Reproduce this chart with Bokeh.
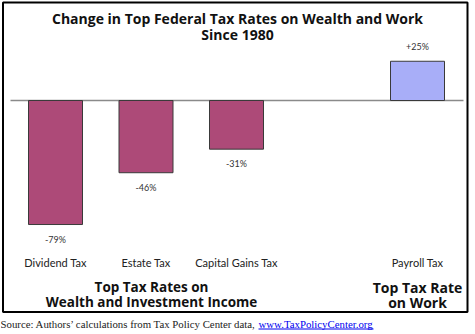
from bokeh.plotting import figure
from bokeh.models import Range1d, Label, ColumnDataSource
from bokeh.embed import file_html
from bokeh.resources import INLINE

# ---- data ----
categories = ["Dividend Tax", "Estate Tax", "Capital Gains Tax", "Payroll Tax"]
slots = [0, 1, 2, 4]
values = [-79, -46, -31, 25]
value_labels = ["-79%", "-46%", "-31%", "+25%"]
bar_colors = ["#AD4A78", "#AD4A78", "#AD4A78", "#A8AEF8"]

title_lines = ["Change in Top Federal Tax Rates on Wealth and Work", "Since 1980"]
group_left = ["Top Tax Rates on", "Wealth and Investment Income"]
group_right = ["Top Tax Rate", "on Work"]
source_text = "Source: Authors\u2019 calculations from Tax Policy Center data,"
link_text = "www.TaxPolicyCenter.org"

# ---- pixel <-> data mapping helpers (layout only) ----
W, H = 475, 334
X0, DX = 55.0, 90.5     # pixel of slot 0, pixels per slot
Y0, DY = 100.0, 1.57    # pixel of zero line, pixels per percent
def px_x(px):
    return (px - X0) / DX
def px_y(py):
    return (Y0 - py) / DY

p = figure(width=W, height=H, output_backend="svg", toolbar_location=None,
           x_range=Range1d(px_x(0), px_x(W)), y_range=Range1d(px_y(H), px_y(0)),
           x_axis_type=None, y_axis_type=None, min_border=0,
           background_fill_color="white", border_fill_color="white")
p.outline_line_color = None
p.grid.visible = False

FONT = "Lato"
BOLD = "Open Sans"

# outer box
p.quad(left=[px_x(2.5)], right=[px_x(467)], top=[px_y(2)], bottom=[px_y(311.5)],
       fill_color=None, line_color="black", line_width=2)

# zero line
p.line(x=[px_x(10), px_x(463)], y=[0, 0], line_color="#8a8a8a", line_width=1.5)

src = ColumnDataSource(dict(x=slots, top=values, color=bar_colors))
p.vbar(x="x", top="top", bottom=0, width=54 / DX, fill_color="color",
       line_color="#3a3a3a", line_width=1, source=src)

# value labels
for s, v, t in zip(slots, values, value_labels):
    off = 9 / DY
    y = v + off if v > 0 else v - off
    p.add_layout(Label(x=s, y=y, text=t, text_align="center",
                       text_baseline="bottom" if v > 0 else "top",
                       text_font=FONT, text_font_size="9px", text_color="#333333"))

# category labels
for s, c in zip(slots, categories):
    p.add_layout(Label(x=s, y=px_y(262), text=c, text_align="center", text_baseline="middle",
                       text_font=FONT, text_font_size="11px", text_color="#222222"))

# title
for i, t in enumerate(title_lines):
    p.add_layout(Label(x=px_x(237), y=px_y(18 + 16 * i), text=t, text_align="center",
                       text_baseline="middle", text_font=BOLD, text_font_size="14px",
                       text_font_style="bold", text_color="#111111"))

# group labels
for i, t in enumerate(group_left):
    p.add_layout(Label(x=px_x(151), y=px_y(286 + 15.5 * i), text=t, text_align="center",
                       text_baseline="middle", text_font=BOLD, text_font_size="13.5px",
                       text_font_style="bold", text_color="#111111"))
for i, t in enumerate(group_right):
    p.add_layout(Label(x=px_x(417), y=px_y(287 + 14.5 * i), text=t, text_align="center",
                       text_baseline="middle", text_font=BOLD, text_font_size="14px",
                       text_font_style="bold", text_color="#111111"))

# source line
p.add_layout(Label(x=px_x(0), y=px_y(323), text=source_text, text_align="left",
                   text_baseline="middle", text_font="Liberation Serif",
                   text_font_size="10.8px", text_color="#222222"))
p.add_layout(Label(x=px_x(258), y=px_y(323), text=link_text, text_align="left",
                   text_baseline="middle", text_font="Liberation Serif",
                   text_font_size="10.8px", text_color="#0000EE"))
p.line(x=[px_x(258), px_x(373)], y=[px_y(328.5), px_y(328.5)], line_color="#0000EE", line_width=1)

open("out.html", "w").write(file_html(p, INLINE))
